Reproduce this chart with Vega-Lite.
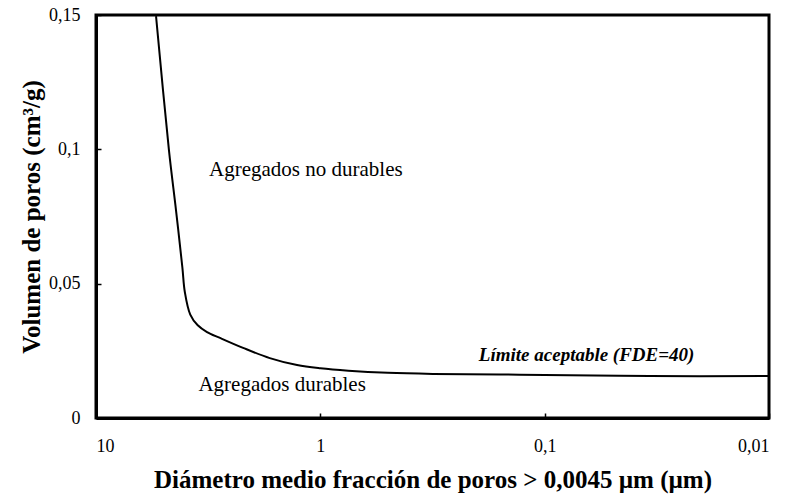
{
  "$schema": "https://vega.github.io/schema/vega-lite/v6.json",
  "autosize": "none",
  "width": 673,
  "height": 403,
  "padding": {"left": 96, "top": 15, "right": 19, "bottom": 82},
  "background": "white",
  "config": {
    "view": {"stroke": "black", "strokeWidth": 3},
    "font": "Liberation Serif",
    "axis": {
      "labelFont": "Liberation Serif",
      "titleFont": "Liberation Serif",
      "labelColor": "black",
      "titleColor": "black",
      "domainColor": "black",
      "domainWidth": 3,
      "tickColor": "black",
      "tickWidth": 1.5,
      "tickSize": -5,
      "grid": false,
      "labelFontSize": 18,
      "titleFontSize": 25,
      "titleFontWeight": "bold"
    }
  },
  "datasets": {
    "curve": [
      {"d": 5.40, "v": 0.1496},
      {"d": 4.73, "v": 0.0997},
      {"d": 4.40, "v": 0.0774},
      {"d": 4.12, "v": 0.0560},
      {"d": 4.02, "v": 0.0470},
      {"d": 3.80, "v": 0.0385},
      {"d": 3.52, "v": 0.0345},
      {"d": 3.20, "v": 0.0320},
      {"d": 2.80, "v": 0.0298},
      {"d": 2.21, "v": 0.0261},
      {"d": 1.68, "v": 0.0223},
      {"d": 1.27, "v": 0.0197},
      {"d": 1.0, "v": 0.0185},
      {"d": 0.75, "v": 0.0176},
      {"d": 0.5, "v": 0.0168},
      {"d": 0.315, "v": 0.0164},
      {"d": 0.158, "v": 0.0162},
      {"d": 0.1, "v": 0.016},
      {"d": 0.034, "v": 0.0156},
      {"d": 0.01, "v": 0.0156}
    ],
    "labels": [
      {"d": 1.16, "v": 0.0923, "t": "Agregados no durables"},
      {"d": 1.48, "v": 0.0123, "t": "Agregados durables"}
    ],
    "limit": [
      {"d": 0.065, "v": 0.0236, "t": "Límite aceptable (FDE=40)"}
    ]
  },
  "layer": [
    {
      "data": {"name": "curve"},
      "mark": {"type": "line", "color": "black", "strokeWidth": 2, "interpolate": "catmull-rom", "clip": true},
      "encoding": {
        "x": {
          "field": "d", "type": "quantitative",
          "scale": {"type": "log", "domain": [0.01, 10], "reverse": true, "nice": false},
          "axis": {
            "values": [10, 1, 0.1, 0.01],
            "labelExpr": "replace(toString(datum.value), '.', ',')",
            "labelPadding": 24,
            "titlePadding": 12,
            "title": "Diámetro medio fracción de poros > 0,0045 µm (µm)"
          }
        },
        "y": {
          "field": "v", "type": "quantitative",
          "scale": {"domain": [0, 0.15], "nice": false, "zero": true},
          "axis": {
            "values": [0, 0.05, 0.1, 0.15],
            "labelExpr": "replace(toString(datum.value), '.', ',')",
            "labelPadding": 21,
            "titlePadding": 4,
            "title": "Volumen de poros (cm³/g)"
          }
        }
      }
    },
    {
      "data": {"name": "labels"},
      "mark": {"type": "text", "font": "Liberation Serif", "fontSize": 21, "color": "black", "align": "center", "baseline": "middle"},
      "encoding": {
        "x": {"field": "d", "type": "quantitative"},
        "y": {"field": "v", "type": "quantitative"},
        "text": {"field": "t"}
      }
    },
    {
      "data": {"name": "limit"},
      "mark": {"type": "text", "font": "Liberation Serif", "fontSize": 19, "fontWeight": "bold", "fontStyle": "italic", "color": "black", "align": "center", "baseline": "middle"},
      "encoding": {
        "x": {"field": "d", "type": "quantitative"},
        "y": {"field": "v", "type": "quantitative"},
        "text": {"field": "t"}
      }
    }
  ]
}
